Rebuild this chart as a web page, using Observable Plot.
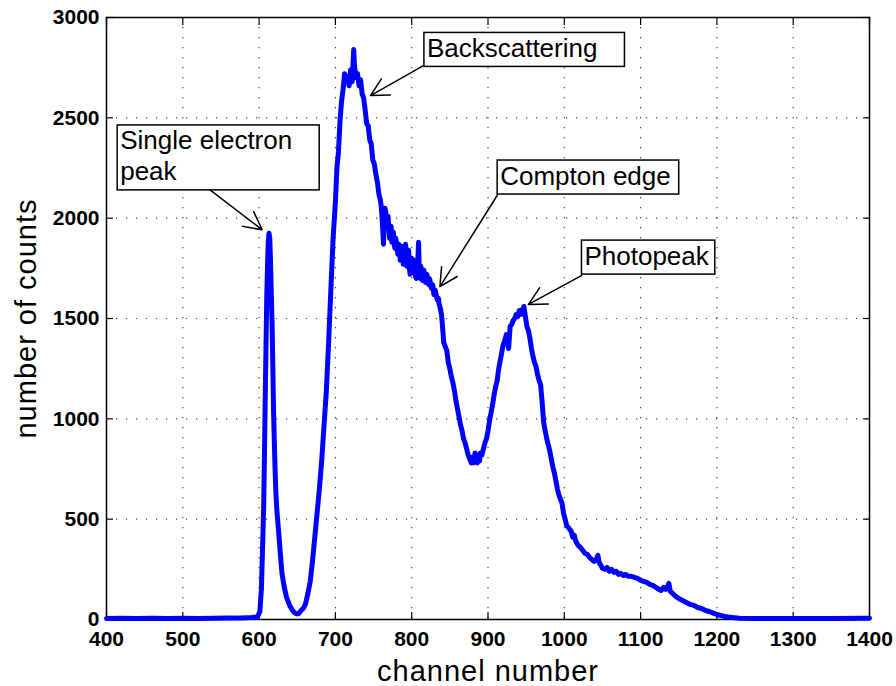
<!DOCTYPE html>
<html><head><meta charset="utf-8">
<script src="https://cdn.jsdelivr.net/npm/d3@7"></script>
<script src="https://cdn.jsdelivr.net/npm/@observablehq/plot@0.6"></script>
<style>body{margin:0;background:#fff;}</style>
</head><body><div id="chart"></div>
<script>
// ---- data ----
const channels = [400,420,440,460,480,500,520,540,560,575,590,598,601,603,605,606,607,608,609,610,611,612,613,614,615,616,617,618,619,620,621,622,623,624,626,628,630,633,636,640,643,646,649,652,655,658,661,664,667,670,673,676,679,682,685,688,691,694,697,700,702,704,706,708,710,712,714,716,718,720,722,724,725,727,729,731,733,735,737,739,741,743,745,747,749,751,753,755,757,759,
760,761,762,763,764,765,766,767,768,769,770,771,772,773,774,775,776,777,778,779,780,781,782,783,784,785,786,787,788,789,790,791,792,793,794,795,796,797,798,799,800,801,802,803,804,805,806,807,808,809,810,811,812,813,814,815,816,817,818,819,820,821,822,823,824,825,826,827,828,829,830,831,832,833,834,835,836,837,838,839,840,
842,844,846,848,850,852,854,856,858,860,862,864,866,868,870,872,874,876,878,880,881,882,883,884,885,886,887,888,889,890,892,894,896,898,900,902,904,906,908,910,912,914,916,918,920,922,924,926,927,929,931,933,935,937,939,941,943,945,947,949,951,953,955,957,959,961,963,965,967,969,971,973,975,977,979,981,983,985,987,989,991,993,995,997,999,1001,1003,1005,1007,1009,1011,1013,1015,1018,1021,1024,1027,1030,1033,1036,1039,1042,1044,1046,1048,1050,1053,1056,1059,1062,1065,1068,1071,1074,1077,1080,1084,1088,1092,1096,1100,1104,1108,1112,1116,1120,1124,1127,1130,1133,1136,1137,1139,1142,1146,1150,1155,1160,1165,1170,1175,1180,1185,1190,1195,1200,1205,1210,1215,1220,1230,1250,1300,1350,1400];
const counts = [5,6,5,6,5,6,5,6,7,8,10,14,40,150,420,560,820,1100,1350,1600,1760,1880,1925,1900,1780,1620,1480,1260,1030,880,740,630,560,510,420,320,230,160,110,70,50,35,28,30,45,55,80,130,190,290,410,530,650,790,960,1130,1370,1640,1900,2080,2250,2330,2480,2580,2640,2720,2700,2690,2660,2740,2680,2840,2760,2700,2720,2660,2690,2620,2600,2540,2470,2460,2390,2370,2290,2270,2220,2180,2120,2090,
2060,2010,1950,1870,2000,2050,2030,1960,1990,2010,1950,1900,1930,1960,1880,1910,1930,1870,1850,1900,1880,1840,1820,1870,1860,1790,1800,1860,1850,1770,1780,1830,1870,1790,1760,1800,1840,1750,1720,1770,1800,1740,1730,1780,1790,1710,1700,1760,1780,1880,1720,1700,1760,1730,1690,1710,1740,1700,1680,1700,1720,1680,1670,1700,1690,1660,1650,1670,1660,1620,1630,1640,1620,1600,1590,1600,1570,1560,1540,1520,1480,
1380,1360,1340,1280,1250,1210,1180,1140,1090,1050,1010,970,940,900,880,850,820,800,780,810,780,790,830,820,790,780,810,800,790,830,820,850,880,900,940,990,1030,1070,1120,1160,1190,1250,1290,1330,1370,1390,1420,1380,1350,1460,1470,1490,1500,1520,1510,1540,1520,1540,1560,1510,1460,1440,1400,1350,1310,1280,1260,1220,1190,1170,1080,980,940,900,870,840,800,760,730,690,650,620,600,580,530,500,470,460,450,440,410,420,390,370,360,345,330,325,310,300,290,300,320,280,270,255,250,260,240,250,235,240,225,230,220,225,215,215,210,205,195,190,185,175,170,160,150,145,160,150,170,180,140,130,115,105,95,85,75,70,60,55,45,40,32,25,20,15,12,10,6,5,5,5,6];
const xTicks = [400,500,600,700,800,900,1000,1100,1200,1300,1400];
const yTicks = [0,500,1000,1500,2000,2500,3000];
const xLabel = "channel number";
const yLabel = "number of counts";
// annotations: label, box top-left corner (data units), arrow tail and head (data units)
const annLabels = ["Single electron\npeak", "Backscattering", "Compton edge", "Photopeak"];
const annBoxX = [414, 816, 912, 1022.5];
const annBoxY = [2462, 2923, 2287, 1888];
const annTailX = [534, 816, 912, 1022.5];
const annTailY = [2146, 2761, 2113, 1714];
const annHeadX = [604, 746, 837, 953];
const annHeadY = [1942, 2611, 1659, 1570];

// ---- styles ----
const boxPadRight = [27, 27, 8, 5];
const FONT = "'Liberation Sans', Arial, Helvetica, sans-serif";

const spectrum = channels.map((c, i) => ({channel: c, count: counts[i]}));
const notes = annLabels.map((t, i) => ({label: t, bx: annBoxX[i], by: annBoxY[i],
  tx: annTailX[i], ty: annTailY[i], hx: annHeadX[i], hy: annHeadY[i]}));
const plain = d => String(d);

const chart = Plot.plot({
  width: 896, height: 686,
  marginLeft: 106, marginRight: 27, marginTop: 17, marginBottom: 67,
  style: {fontFamily: FONT, background: "#fff", color: "#000", overflow: "visible"},
  x: {domain: [400, 1400]},
  y: {domain: [0, 3000]},
  marks: [
    Plot.gridX(xTicks, {stroke: "#444", strokeOpacity: 1, strokeWidth: 1.2, strokeDasharray: "1.2,8.8"}),
    Plot.gridY(yTicks, {stroke: "#444", strokeOpacity: 1, strokeWidth: 1.2, strokeDasharray: "1.2,8.8"}),
    Plot.frame({stroke: "#000", strokeWidth: 1.5}),
    Plot.axisX(xTicks, {anchor: "bottom", tickSize: -7, tickPadding: 19, tickFormat: plain, fontSize: 21, fontWeight: "bold", label: null, strokeWidth: 1.2}),
    Plot.axisX(xTicks, {anchor: "top", tickSize: -7, tickFormat: () => "", label: null, strokeWidth: 1.2}),
    Plot.axisY(yTicks, {anchor: "left", tickSize: -7, tickPadding: 14, tickFormat: plain, fontSize: 21, fontWeight: "bold", label: null, strokeWidth: 1.2}),
    Plot.axisY(yTicks, {anchor: "right", tickSize: -7, tickFormat: () => "", label: null, strokeWidth: 1.2}),
    Plot.line(spectrum, {x: "channel", y: "count", stroke: "#0000ff", strokeWidth: 5, strokeLinejoin: "round", strokeLinecap: "round"}),
    Plot.text([xLabel], {text: d => d, frameAnchor: "bottom", dy: 61, lineAnchor: "bottom", fontSize: 29}),
    Plot.text([yLabel], {text: d => d, frameAnchor: "left", dx: -71, rotate: -90, textAnchor: "middle", lineAnchor: "bottom", fontSize: 29}),
    Plot.arrow(notes, {x1: "tx", y1: "ty", x2: "hx", y2: "hy", stroke: "#000", strokeWidth: 1.5, headLength: 20, headAngle: 55}),
    Plot.text(notes, {x: "bx", y: "by", text: "label", textAnchor: "start", lineAnchor: "top", dx: 3, dy: 2, fontSize: 26, lineHeight: 1.19, fill: "#000"})
  ]
});
document.getElementById("chart").appendChild(chart);

// letter spacing for axis titles, boxes behind annotation text
const svg = d3.select(chart);
const flat = new Map(annLabels.map((t, i) => [t.replace(/\n/g, ""), i]));
svg.selectAll("text").each(function () {
  const t = this.textContent;
  if (t === xLabel || t === yLabel) this.setAttribute("letter-spacing", "1px");
  if (flat.has(t)) {
    const i = flat.get(t);
    const b = this.getBBox();
    const r = document.createElementNS("http://www.w3.org/2000/svg", "rect");
    r.setAttribute("x", b.x - 3);
    r.setAttribute("y", b.y - 0.5);
    r.setAttribute("width", b.width + 3 + boxPadRight[i]);
    r.setAttribute("height", b.height + 4);
    r.setAttribute("fill", "#fff");
    r.setAttribute("stroke", "#000");
    r.setAttribute("stroke-width", 1.5);
    const tr = this.getAttribute("transform");
    if (tr) r.setAttribute("transform", tr);
    this.parentNode.insertBefore(r, this);
  }
});
</script>
</body></html>
